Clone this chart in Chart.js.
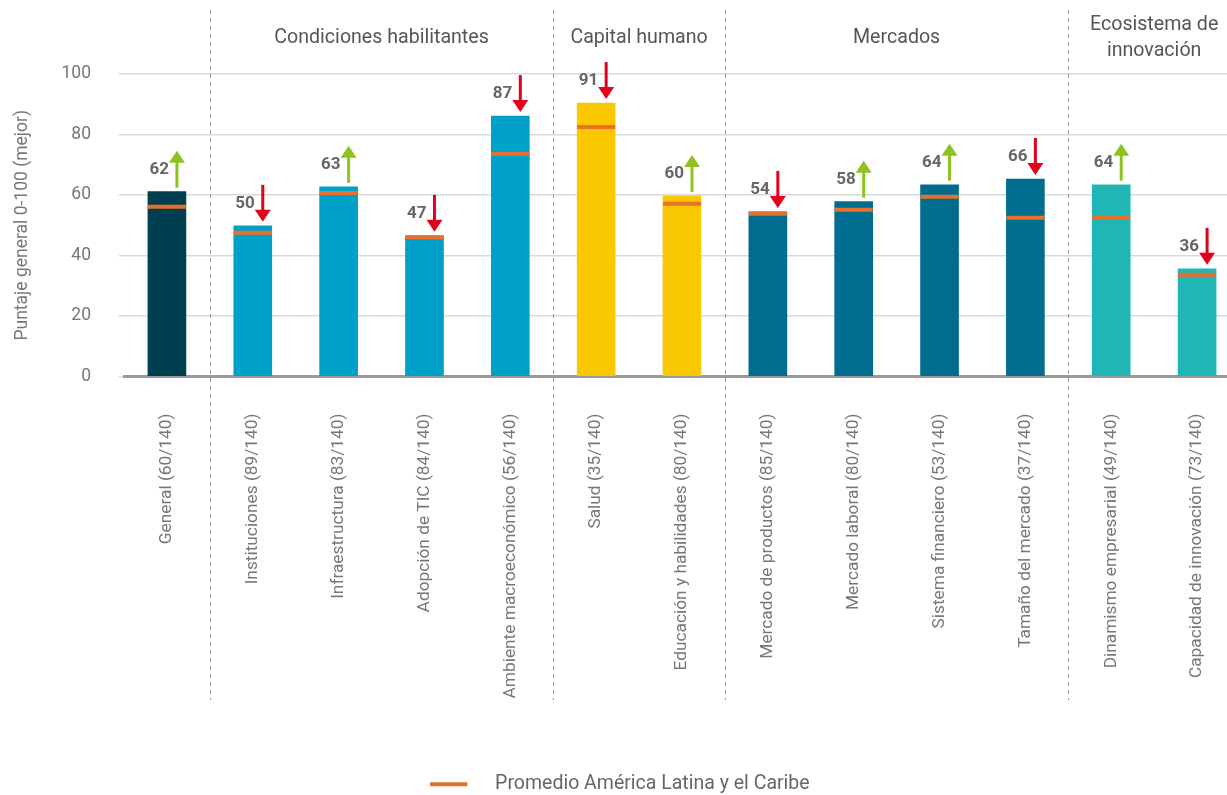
<!DOCTYPE html>
<html><head><meta charset="utf-8">
<script src="https://cdn.jsdelivr.net/npm/chart.js@4/dist/chart.umd.min.js"></script>
<style>
html,body{margin:0;padding:0;overflow:hidden;background:#fff;width:1227px;height:795px}
#wrap{position:relative;width:1240px;height:795px}
</style></head>
<body><div id="wrap"><canvas id="c" width="1240" height="795"></canvas></div>
<script>
const categories = ['General (60/140)','Instituciones (89/140)','Infraestructura (83/140)','Adopción de TIC (84/140)','Ambiente macroeconómico (56/140)','Salud (35/140)','Educación y habilidades (80/140)','Mercado de productos (85/140)','Mercado laboral (80/140)','Sistema financiero (53/140)','Tamaño del mercado (37/140)','Dinamismo empresarial (49/140)','Capacidad de innovación (73/140)'];
const scores = [61.1, 49.8, 62.7, 46.5, 86.1, 90.4, 59.7, 54.4, 57.8, 63.4, 65.3, 63.4, 35.6];
const scoreLabels = ['62','50','63','47','87','91','60','54','58','64','66','64','36'];
const latamAvg = [56.1, 47.5, 60.7, 46.0, 73.6, 82.5, 57.1, 53.8, 55.1, 59.4, 52.5, 52.5, 33.6];
const trend = ['up','down','up','down','down','down','up','down','up','up','down','up','down'];
const barColors = ['#003F50','#00A1C8','#00A1C8','#00A1C8','#00A1C8','#FAC800','#FAC800','#006D8E','#006D8E','#006D8E','#006D8E','#20B6B6','#20B6B6'];
const groupNames = [['Condiciones habilitantes'],['Capital humano'],['Mercados'],['Ecosistema de','innovación']];
const groupFirst = [1,5,7,11];
const groupLast = [4,6,10,12];
const yTicks = [0,20,40,60,80,100];
const legendLabel = 'Promedio América Latina y el Caribe';

const FONT = 'Roboto';
const ORANGE = '#E8702A';

const swatch = document.createElement('canvas');
swatch.width = 55; swatch.height = 6;
(function(){ const g = swatch.getContext('2d'); g.fillStyle = ORANGE; g.fillRect(0,1,37,4); })();

const decor = {
  id:'decor',
  afterDatasetsDraw(chart){
    const ctx = chart.ctx, xs = chart.scales.x;
    const meta = chart.getDatasetMeta(1);
    ctx.save();
    ctx.strokeStyle = '#9a9a9a'; ctx.lineWidth = 1; ctx.setLineDash([4,4]);
    groupFirst.forEach(i => {
      const x = Math.round((xs.getPixelForValue(i-1)+xs.getPixelForValue(i))/2)+0.5;
      ctx.beginPath(); ctx.moveTo(x, 10); ctx.lineTo(x, 700); ctx.stroke();
    });
    ctx.setLineDash([]);
    ctx.fillStyle = '#555'; ctx.font = '19.6px '+FONT; ctx.textAlign='center'; ctx.textBaseline='middle';
    groupNames.forEach((lines, g) => {
      const x = (xs.getPixelForValue(groupFirst[g])+xs.getPixelForValue(groupLast[g]))/2;
      if (lines.length===1) ctx.fillText(lines[0], x, 38);
      else { ctx.fillText(lines[0], x, 25); ctx.fillText(lines[1], x, 51); }
    });
    meta.data.forEach((bar, i) => {
      const top = bar.y, ax = bar.x + 10;
      const up = trend[i]==='up';
      ctx.fillStyle = up ? '#8CC320' : '#E3001B';
      ctx.strokeStyle = ctx.fillStyle;
      const yTop = top-41, yBot = top-4;
      ctx.lineWidth = 3;
      ctx.beginPath();
      if (up){ ctx.moveTo(ax, yBot); ctx.lineTo(ax, yTop+11); }
      else { ctx.moveTo(ax, yTop); ctx.lineTo(ax, yBot-11); }
      ctx.stroke();
      ctx.beginPath();
      if (up){ ctx.moveTo(ax, yTop); ctx.lineTo(ax-8, yTop+12); ctx.lineTo(ax+8, yTop+12); }
      else { ctx.moveTo(ax, yBot); ctx.lineTo(ax-8, yBot-12); ctx.lineTo(ax+8, yBot-12); }
      ctx.closePath(); ctx.fill();
      ctx.fillStyle = '#666'; ctx.font = 'bold 17px '+FONT; ctx.textAlign='right'; ctx.textBaseline='middle';
      ctx.fillText(scoreLabels[i], bar.x+2, top-22);
    });
    ctx.restore();
  }
};

new Chart(document.getElementById('c'), {
  data: {
    labels: categories,
    datasets: [
      { type:'line', label: legendLabel, data: latamAvg, showLine:false, order:0, clip:false,
        borderColor:ORANGE, backgroundColor:ORANGE, borderWidth:4,
        pointStyle:'line', pointRadius:19, pointHoverRadius:19, pointBorderWidth:4, pointBorderColor:ORANGE },
      { type:'bar', label:'Puntaje', data: scores, backgroundColor: barColors, barThickness:38, order:1 }
    ]
  },
  options: {
    responsive:false, animation:false, devicePixelRatio:1,
    layout:{ autoPadding:false, padding:{ top:74, left:0, right:0, bottom:-9 } },
    plugins:{
      tooltip:{enabled:false},
      legend:{ display:true, position:'bottom',
        labels:{ filter:(item)=>item.datasetIndex===0, usePointStyle:true, pointStyle: swatch, pointStyleWidth:55,
          color:'#666', font:{family:FONT, size:19.5}, padding:4 } }
    },
    scales:{
      x:{ grid:{display:false}, border:{display:true, color:'#999', width:3},
        ticks:{ maxRotation:90, minRotation:90, color:'#777', font:{family:FONT, size:17.3}, padding:29, autoSkip:false },
        afterFit:(s)=>{ s.height = 394; s.paddingRight = 0; s.paddingLeft = 0; } },
      y:{ min:0, max:100, afterBuildTicks:(s)=>{ s.ticks = yTicks.map(v=>({value:v})); },
        grid:{ color:'#d9d9d9', lineWidth:1.5, tickLength:5, drawTicks:true },
        border:{display:false},
        ticks:{ color:'#777', font:{family:FONT, size:17.5}, padding:28 },
        title:{ display:true, text:'Puntaje general 0-100 (mejor)', color:'#777', font:{family:FONT, size:17.5}, padding:{top:12,bottom:0} },
        afterFit:(s)=>{ s.width = 124; } }
    }
  },
  plugins:[decor]
});
</script></body></html>
